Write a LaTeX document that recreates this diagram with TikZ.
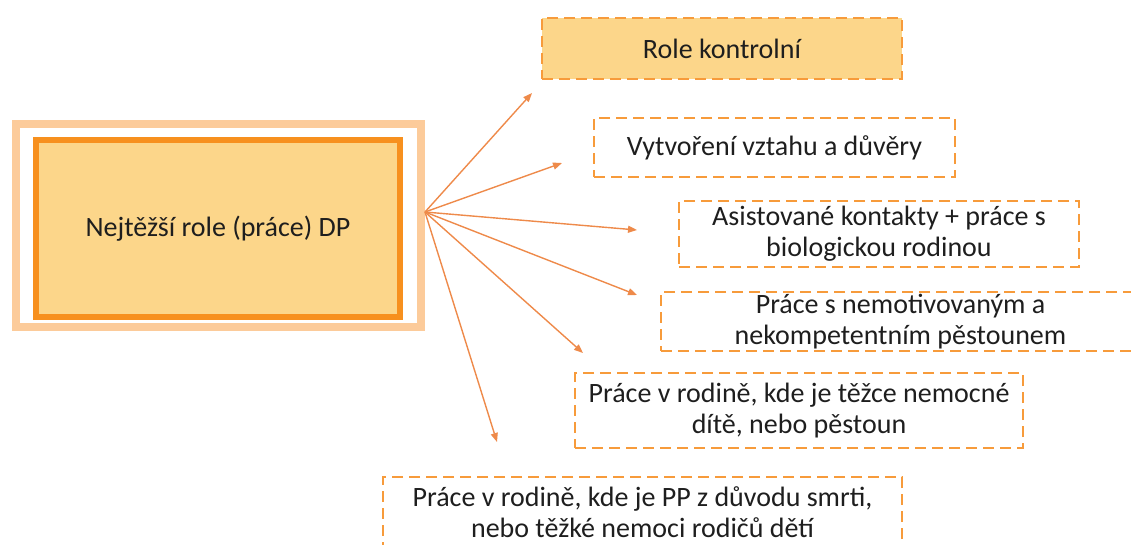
\documentclass[tikz,border=0pt]{standalone}
\usepackage{fontspec}
\setmainfont{Carlito}
\usetikzlibrary{arrows.meta}
\definecolor{gold}{HTML}{FCD68A}
\definecolor{deeporange}{HTML}{F7901E}
\definecolor{peach}{HTML}{FCCB9A}
\definecolor{dashorange}{HTML}{F79B3B}
\definecolor{arroworange}{HTML}{EE8A4A}
\definecolor{inktext}{HTML}{1E1E1E}
\begin{document}
\begin{tikzpicture}[x=1pt,y=-1pt,
  labeltext/.style={font=\fontsize{28}{31}\selectfont, align=center, text=inktext},
  dashbox/.style={labeltext, draw=dashorange, line width=2pt,
    dash pattern=on 11pt off 6pt, inner sep=0pt, anchor=center},
  spoke/.style={draw=arroworange, line width=1.4pt,
    -{Triangle[length=9pt,width=7pt]}},
]
\clip (0,0) rectangle (1131,544);

% central box with its double frame
\node[draw=peach, line width=7.5pt, minimum width=405pt, minimum height=203pt,
      inner sep=0pt, anchor=center] (frame) at (218.5,225.5) {};
\node[draw=deeporange, fill=gold, line width=6.5pt, minimum width=364pt,
      minimum height=177pt, inner sep=0pt, anchor=center, labeltext] (main)
      at (218,228.5) {Nejtěžší role (práce) DP};

% the roles
\node[dashbox, fill=gold, minimum width=360pt, minimum height=61pt] (r1)
      at (722,48.5) {Role kontrolní};
\node[dashbox, minimum width=361pt, minimum height=59pt] (r2)
      at (774.5,147.5) {Vytvoření vztahu a důvěry};
\node[dashbox, minimum width=400pt, minimum height=66pt] (r3)
      at (879,234) {Asistované kontakty + práce s\\biologickou rodinou};
\node[dashbox, minimum width=479pt, minimum height=59pt] (r4)
      at (900.5,321.5) {Práce s nemotivovaným a\\nekompetentním pěstounem};
\node[dashbox, minimum width=448pt, minimum height=75pt] (r5)
      at (799,410.5) {Práce v rodině, kde je těžce nemocné\\dítě, nebo pěstoun};
\node[dashbox, minimum width=519pt, minimum height=70pt] (r6)
      at (642.5,512) {Práce v rodině, kde je PP z důvodu smrti,\\nebo těžké nemoci rodičů dětí};

% spokes fanning out from the frame
\coordinate (hub) at (425,212);
\coordinate (e1) at (532,93);
\coordinate (e2) at (562,163);
\coordinate (e3) at (637,230);
\coordinate (e4) at (637,295);
\coordinate (e5) at (583,353);
\coordinate (e6) at (497,442);
\foreach \e in {e1,e2,e3,e4,e5,e6}
  \draw[spoke] (hub) -- (\e);
\end{tikzpicture}
\end{document}
